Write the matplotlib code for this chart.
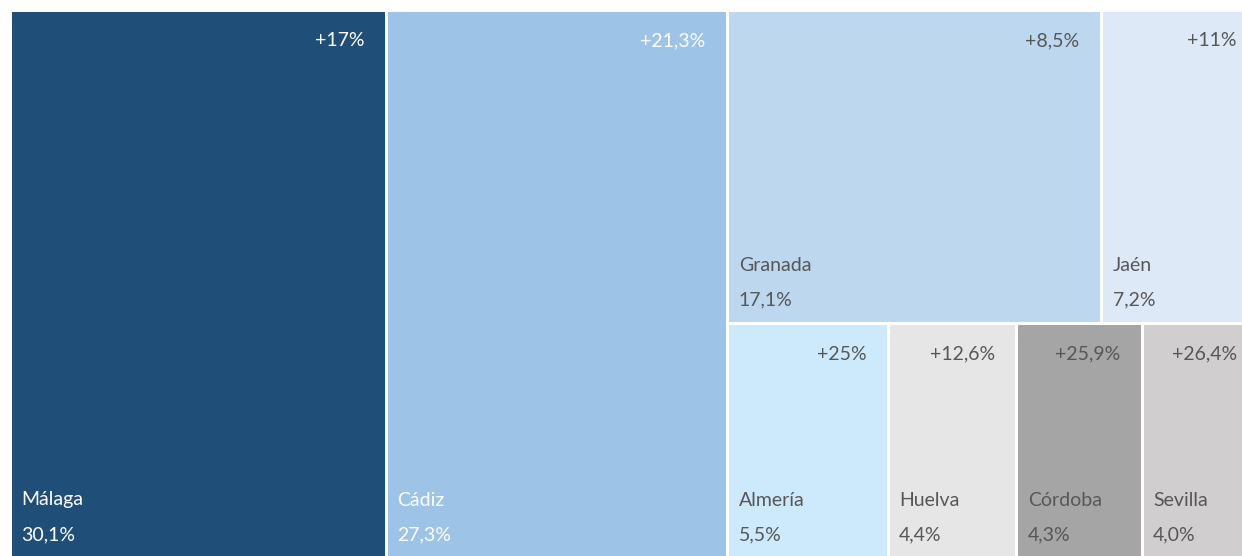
import matplotlib
matplotlib.use("Agg")
import matplotlib.pyplot as plt
from matplotlib.patches import Rectangle

# ---- data ----
provinces = ["Málaga", "Cádiz", "Granada", "Jaén", "Almería", "Huelva", "Córdoba", "Sevilla"]
shares = [30.1, 27.3, 17.1, 7.2, 5.5, 4.4, 4.3, 4.0]
share_labels = ["30,1%", "27,3%", "17,1%", "7,2%", "5,5%", "4,4%", "4,3%", "4,0%"]
change_labels = ["+17%", "+21,3%", "+8,5%", "+11%", "+25%", "+12,6%", "+25,9%", "+26,4%"]
colors = ["#1f4e78", "#9dc3e6", "#bdd7ee", "#dde9f6", "#cdeafd", "#e6e6e6", "#a5a5a5", "#d0cecf"]
text_colors = ["white", "white", "#575757", "#575757", "#575757", "#575757", "#575757", "#575757"]

# layout structure: two full-height columns, then a column with two rows
columns = [[[0]], [[1]], [[2, 3], [4, 5, 6, 7]]]

W, H = 1242, 556
fig = plt.figure(figsize=(W / 100, H / 100), dpi=100)
ax = fig.add_axes([0, 0, 1, 1])
ax.set_xlim(0, W)
ax.set_ylim(H, 0)
ax.axis("off")

X0, X1, Y0, Y1 = 10, 1259, 10, 558
gap = 1.5
total = sum(shares)
font = ["Lato", "DejaVu Sans"]
fs = 14

rects = {}
x = X0
for col in columns:
    col_sum = sum(shares[i] for row in col for i in row)
    cw = (X1 - X0) * col_sum / total
    y = Y0
    for row in col:
        row_sum = sum(shares[i] for i in row)
        rh = (Y1 - Y0) * row_sum / col_sum
        xx = x
        for i in row:
            w = cw * shares[i] / row_sum
            rects[i] = (xx, y, w, rh)
            xx += w
        y += rh
    x += cw

for i, (rx, ry, rw, rh) in rects.items():
    ax.add_patch(Rectangle((rx + gap, ry + gap), rw - 2 * gap, rh - 2 * gap,
                           facecolor=colors[i], edgecolor="none"))
    tc = text_colors[i]
    ax.text(rx + rw - 22, ry + 31, change_labels[i], ha="right", va="center",
            color=tc, fontsize=fs, family=font, clip_on=False)
    ax.text(rx + 11, ry + rh - 58, provinces[i], ha="left", va="center",
            color=tc, fontsize=fs, family=font)
    ax.text(rx + 11, ry + rh - 23, share_labels[i], ha="left", va="center",
            color=tc, fontsize=fs, family=font)

fig.savefig("out.png", dpi=100, facecolor="white")
